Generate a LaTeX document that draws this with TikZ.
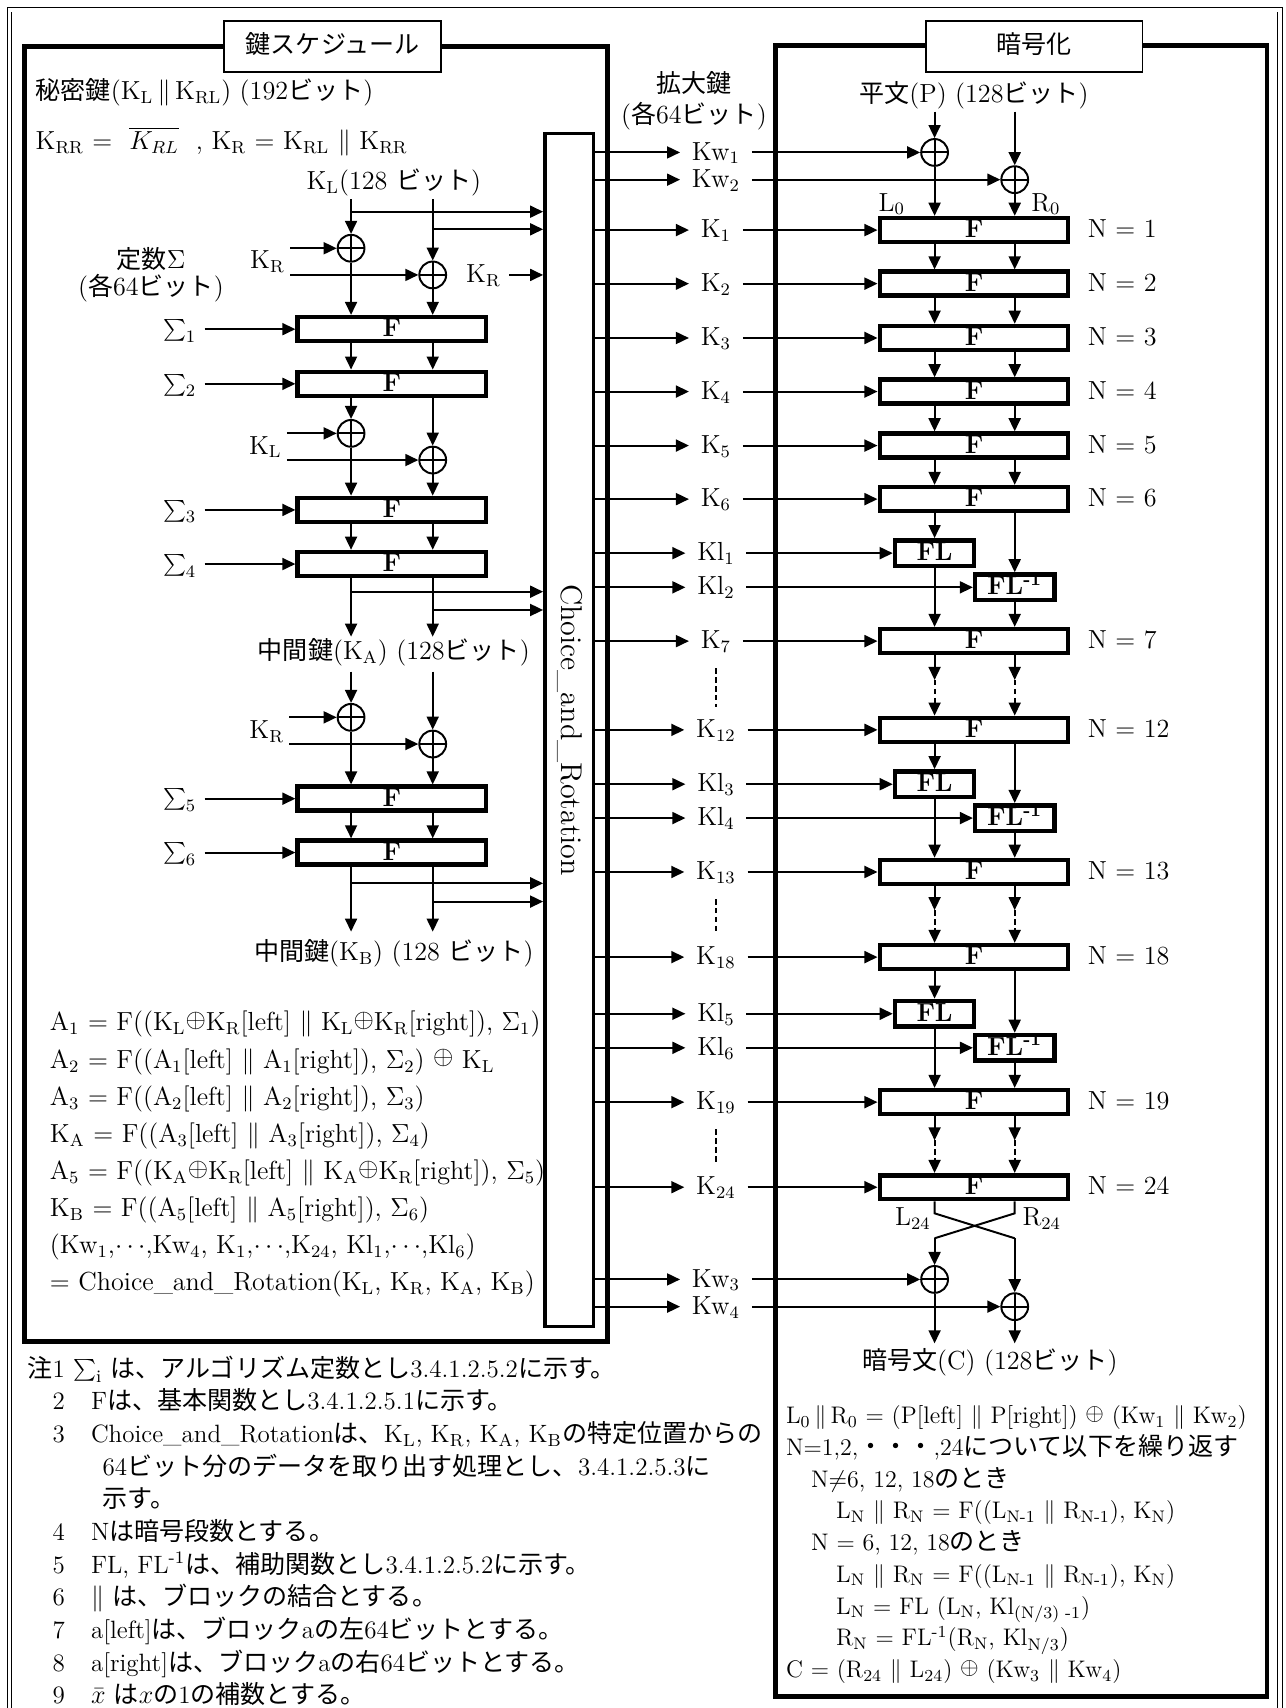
\documentclass[tikz,border=0pt]{standalone}
\usepackage{fontspec}
\usepackage{tikz}
\usetikzlibrary{arrows.meta,positioning}
\newfontfamily\jfont{Noto Sans CJK JP}
\newcommand\ja[1]{{\jfont\fontsize{11.5}{14}\selectfont #1}}
\newcommand\lo[1]{\textsubscript{#1}}
\newcommand\hi[1]{\textsuperscript{#1}}
\newcommand\xo{\raisebox{.3ex}{$\oplus$}}

\begin{document}
\begin{tikzpicture}[x=.5pt,y=-.5pt,
  every node/.append style={font=\fontsize{12}{14}\selectfont,text height=.8em,text depth=.1em},
  >={Triangle[length=6pt,width=5.5pt]},
  line width=.9pt,
  bigbox/.style={line width=2.2pt},
  headbox/.style={draw,fill=white,line width=.8pt,minimum width=99.5pt,minimum height=23.5pt,inner sep=0pt},
  fbox/.style={draw,line width=2.1pt,minimum width=86.5pt,minimum height=11pt,inner sep=0pt,font=\fontsize{12}{14}\selectfont\bfseries},
  flbox/.style={draw,line width=2.1pt,minimum width=36.3pt,minimum height=11.75pt,inner sep=0pt,font=\fontsize{12}{14}\selectfont\bfseries},
  xor/.style={draw,circle,minimum size=12.3pt,inner sep=0pt,text height=0pt,text depth=0pt,
    path picture={\draw (path picture bounding box.north) -- (path picture bounding box.south)
      (path picture bounding box.west) -- (path picture bounding box.east);}},
  keylab/.style={inner xsep=5pt,inner ysep=1pt},
  eqline/.style={anchor=west,inner sep=0pt},
  eqsmall/.style={anchor=west,inner sep=0pt,font=\fontsize{11}{13}\selectfont},
  note/.style={anchor=west,inner sep=0pt,font=\fontsize{11.5}{13}\selectfont},
  nlab/.style={anchor=west,inner sep=0pt},
  dashline/.style={dash pattern=on 2.5pt off 1.6pt}
]
\useasboundingbox (0,0) rectangle (1181,1568.6);

% frames
\draw[line width=.4pt,double distance=1.6pt] (8.7,1572) -- (8.7,9) -- (1175.5,9) -- (1175.5,1572);
\draw[bigbox] (22.8,43) rectangle (558,1232);
\node[headbox] (kshead) at (305.5,42.5) {\ja{鍵スケジュール}};
\draw[bigbox] (712.4,42) rectangle (1163.6,1558);
\node[headbox] (enchead) at (949.7,42.5) {\ja{暗号化}};

% Choice_and_Rotation
\node[draw,line width=1.6pt,minimum width=22.3pt,minimum height=548pt,inner sep=0pt] (cr) at (522.7,670.4) {};
\node[rotate=-90,font=\fontsize{13.8}{16}\selectfont] (crtext) at (cr.center) {Choice\_and\_Rotation};

% key schedule: input
\node[eqline] (secret) at (31.9,84.2) {\ja{秘密鍵}(K\lo{L}\,$\|$\,K\lo{RL}) (192\ja{ビット})};
\node[eqline] (krr) at (31.9,130) {K\lo{RR} = \ $\overline{K_{RL}}$\ \ , K\lo{R} = K\lo{RL} $\|$ K\lo{RR}};
\node (kltop) at (361.7,166.8) {K\lo{L}(128 \ja{ビット})};
\coordinate (la) at (322.4,183); \coordinate (ra) at (397.4,183);
\coordinate (lb1) at (322.4,194.4); \coordinate (rb1) at (397.4,210.6);
\node[xor] (xa) at (322.4,228) {};
\node[xor] (xb) at (397.4,252.5) {};
\node[inner sep=2pt] (lkr1) at (245.7,240) {K\lo{R}};
\node (lkr2) at (444,252.5) {K\lo{R}};
\node[inner sep=0pt] (sig) at (138.7,240) {\ja{定数}$\Sigma$};
\node[inner sep=0pt,below=2.3pt of sig] (sigb) {(\ja{各}64\ja{ビット})};

\node[fbox] (fa1) at (359.9,302.3) {F};
\node[fbox] (fa2) at (359.9,352.5) {F};
\node[xor] (xc) at (322.4,398) {};
\node[xor] (xd) at (397.4,422.5) {};
\node[inner sep=2pt] (lkl) at (243.7,410) {K\lo{L}};
\node[fbox] (fa3) at (359.9,468.3) {F};
\node[fbox] (fa4) at (359.9,518) {F};
\node (s1) at (165,302.3) {$\sum_1$};
\node (s2) at (165,352.5) {$\sum_2$};
\node (s3) at (165,468.3) {$\sum_3$};
\node (s4) at (165,518) {$\sum_4$};

\draw[->] (la) -- (xa); \draw[->] (ra) -- (xb);
\draw[->] (lb1) -- (lb1 -| cr.west); \draw[->] (rb1) -- (rb1 -| cr.west);
\draw[->] (lkr1.east |- xa) -- (xa); \draw[->] (lkr1.east |- xb) -- (xb);
\draw[->] (lkr2) -- (lkr2 -| cr.west);
\draw[->] (xa) -- (fa1.north -| xa); \draw[->] (xb) -- (fa1.north -| xb);
\draw[->] (s1) -- (fa1); \draw[->] (s2) -- (fa2); \draw[->] (s3) -- (fa3); \draw[->] (s4) -- (fa4);
\draw[->] (fa1.south -| xa) -- (fa2.north -| xa); \draw[->] (fa1.south -| xb) -- (fa2.north -| xb);
\draw[->] (fa2.south -| xc) -- (xc); \draw[->] (fa2.south -| xd) -- (xd);
\draw[->] (lkl.east |- xc) -- (xc); \draw[->] (lkl.east |- xd) -- (xd);
\draw[->] (xc) -- (fa3.north -| xc); \draw[->] (xd) -- (fa3.north -| xd);
\draw[->] (fa3.south -| xc) -- (fa4.north -| xc); \draw[->] (fa3.south -| xd) -- (fa4.north -| xd);

% intermediate key KA
\coordinate (la4) at (322.4,584.7); \coordinate (ra4) at (397.4,584.7);
\coordinate (lb2) at (322.4,543.4); \coordinate (rb2) at (397.4,560.2);
\draw[->] (fa4.south -| la4) -- (la4); \draw[->] (fa4.south -| ra4) -- (ra4);
\draw[->] (lb2) -- (lb2 -| cr.west); \draw[->] (rb2) -- (rb2 -| cr.west);
\node (ka) at (361.7,598.5) {\ja{中間鍵}(K\lo{A}) (128\ja{ビット})};

\coordinate (la5) at (322.4,616.8); \coordinate (ra5) at (397.4,616.8);
\node[xor] (xe) at (322.4,658.8) {};
\node[xor] (xf) at (397.4,683.3) {};
\node[inner sep=2pt] (lkr3) at (245,671) {K\lo{R}};
\node[fbox] (fa5) at (359.9,733.5) {F};
\node[fbox] (fa6) at (359.9,783) {F};
\node (s5) at (165,733.5) {$\sum_5$};
\node (s6) at (165,783) {$\sum_6$};
\draw[->] (la5) -- (xe); \draw[->] (ra5) -- (xf);
\draw[->] (lkr3.east |- xe) -- (xe); \draw[->] (lkr3.east |- xf) -- (xf);
\draw[->] (xe) -- (fa5.north -| xe); \draw[->] (xf) -- (fa5.north -| xf);
\draw[->] (s5) -- (fa5); \draw[->] (s6) -- (fa6);
\draw[->] (fa5.south -| xe) -- (fa6.north -| xe); \draw[->] (fa5.south -| xf) -- (fa6.north -| xf);

% intermediate key KB
\coordinate (la6) at (322.4,855.6); \coordinate (ra6) at (397.4,855.6);
\coordinate (lb3) at (322.4,811.2); \coordinate (rb3) at (397.4,828);
\draw[->] (fa6.south -| la6) -- (la6); \draw[->] (fa6.south -| ra6) -- (ra6);
\draw[->] (lb3) -- (lb3 -| cr.west); \draw[->] (rb3) -- (rb3 -| cr.west);
\node (kb) at (361.7,875.5) {\ja{中間鍵}(K\lo{B}) (128 \ja{ビット})};

% key schedule equations
\node[eqline] (ea1) at (45,939.8) {A\lo{1} = F((K\lo{L}\xo K\lo{R}[left] $\|$ K\lo{L}\xo K\lo{R}[right]), $\Sigma$\lo{1})};
\node[eqline] (ea2) at (45,973.9) {A\lo{2} = F((A\lo{1}[left] $\|$ A\lo{1}[right]), $\Sigma$\lo{2}) \xo\ K\lo{L}};
\node[eqline] (ea3) at (45,1008) {A\lo{3} = F((A\lo{2}[left] $\|$ A\lo{2}[right]), $\Sigma$\lo{3})};
\node[eqline] (ea4) at (45,1042.1) {K\lo{A} = F((A\lo{3}[left] $\|$ A\lo{3}[right]), $\Sigma$\lo{4})};
\node[eqline] (ea5) at (45,1076.2) {A\lo{5} = F((K\lo{A}\xo K\lo{R}[left] $\|$ K\lo{A}\xo K\lo{R}[right]), $\Sigma$\lo{5})};
\node[eqline] (ea6) at (45,1110.3) {K\lo{B} = F((A\lo{5}[left] $\|$ A\lo{5}[right]), $\Sigma$\lo{6})};
\node[eqline] (ea7) at (45,1144.4) {(Kw\lo{1},$\cdots$,Kw\lo{4}, K\lo{1},$\cdots$,K\lo{24}, Kl\lo{1},$\cdots$,Kl\lo{6})};
\node[eqline] (ea8) at (45,1178.5) {= Choice\_and\_Rotation(K\lo{L}, K\lo{R}, K\lo{A}, K\lo{B})};

% extended keys
\node[inner sep=0pt] (ext1) at (637.3,78) {\ja{拡大鍵}};
\node[inner sep=0pt,below=4.5pt of ext1] (ext2) {(\ja{各}64\ja{ビット})};
\node[keylab] (kw1) at (657.5,140) {Kw\lo{1}};
\node[keylab] (kw2) at (657.5,165) {Kw\lo{2}};
\node[keylab] (k1) at (657.5,211.3) {K\lo{1}};
\node[keylab] (k2) at (657.5,260.5) {K\lo{2}};
\node[keylab] (k3) at (657.5,310.4) {K\lo{3}};
\node[keylab] (k4) at (657.5,359.6) {K\lo{4}};
\node[keylab] (k5) at (657.5,409.2) {K\lo{5}};
\node[keylab] (k6) at (657.5,458.4) {K\lo{6}};
\node[keylab] (kl1) at (657.5,508) {Kl\lo{1}};
\node[keylab] (kl2) at (657.5,539.4) {Kl\lo{2}};
\node[keylab] (k7) at (657.5,588.8) {K\lo{7}};
\node[keylab] (k12) at (657.5,670.3) {K\lo{12}};
\node[keylab] (kl3) at (657.5,720.2) {Kl\lo{3}};
\node[keylab] (kl4) at (657.5,751.3) {Kl\lo{4}};
\node[keylab] (k13) at (657.5,800.8) {K\lo{13}};
\node[keylab] (k18) at (657.5,879) {K\lo{18}};
\node[keylab] (kl5) at (657.5,931) {Kl\lo{5}};
\node[keylab] (kl6) at (657.5,962.3) {Kl\lo{6}};
\node[keylab] (k19) at (657.5,1012.2) {K\lo{19}};
\node[keylab] (k24) at (657.5,1090.3) {K\lo{24}};
\node[keylab] (kw3) at (657.5,1175) {Kw\lo{3}};
\node[keylab] (kw4) at (657.5,1200) {Kw\lo{4}};
\draw[dashline,shorten <=6.5pt,shorten >=4.5pt] (k7) -- (k12);
\draw[dashline,shorten <=6.5pt,shorten >=4.5pt] (k13) -- (k18);
\draw[dashline,shorten <=6.5pt,shorten >=4.5pt] (k19) -- (k24);

% encryption
\node (ptext) at (894.5,87.2) {\ja{平文}(P) (128\ja{ビット})};
\coordinate (pl) at (858.3,102.6); \coordinate (pr) at (931.9,102.6);
\node[xor] (xp1) at (858.3,140) {};
\node[xor] (xp2) at (931.9,165) {};
\node (l0) at (819,186.8) {L\lo{0}};
\node (r0) at (960.6,186.8) {R\lo{0}};
\node[fbox] (f1) at (894.5,211.3) {F};
\node[fbox] (f2) at (894.5,260.5) {F};
\node[fbox] (f3) at (894.5,310.4) {F};
\node[fbox] (f4) at (894.5,359.6) {F};
\node[fbox] (f5) at (894.5,409.2) {F};
\node[fbox] (f6) at (894.5,458.4) {F};
\node[flbox] (fl1) at (858.3,508) {FL};
\node[flbox] (fli1) at (931.9,539.4) {FL\hi{-1}};
\node[fbox] (f7) at (894.5,588.8) {F};
\node[fbox] (f12) at (894.5,670.3) {F};
\node[flbox] (fl2) at (858.3,720.2) {FL};
\node[flbox] (fli2) at (931.9,751.3) {FL\hi{-1}};
\node[fbox] (f13) at (894.5,800.8) {F};
\node[fbox] (f18) at (894.5,879) {F};
\node[flbox] (fl3) at (858.3,931) {FL};
\node[flbox] (fli3) at (931.9,962.3) {FL\hi{-1}};
\node[fbox] (f19) at (894.5,1012.2) {F};
\node[fbox] (f24) at (894.5,1090.3) {F};
\node[nlab,right=7.5pt of f1] (n1) {N = 1};
\node[nlab,right=7.5pt of f2] (n2) {N = 2};
\node[nlab,right=7.5pt of f3] (n3) {N = 3};
\node[nlab,right=7.5pt of f4] (n4) {N = 4};
\node[nlab,right=7.5pt of f5] (n5) {N = 5};
\node[nlab,right=7.5pt of f6] (n6) {N = 6};
\node[nlab,right=7.5pt of f7] (n7) {N = 7};
\node[nlab,right=7.5pt of f12] (n12) {N = 12};
\node[nlab,right=7.5pt of f13] (n13) {N = 13};
\node[nlab,right=7.5pt of f18] (n18) {N = 18};
\node[nlab,right=7.5pt of f19] (n19) {N = 19};
\node[nlab,right=7.5pt of f24] (n24) {N = 24};

\draw[->] (pl) -- (xp1); \draw[->] (pr) -- (xp2);
\draw[->] (xp1) -- (f1.north -| xp1); \draw[->] (xp2) -- (f1.north -| xp2);
\draw[->] (f1.south -| pl) -- (f2.north -| pl); \draw[->] (f1.south -| pr) -- (f2.north -| pr);
\draw[->] (f2.south -| pl) -- (f3.north -| pl); \draw[->] (f2.south -| pr) -- (f3.north -| pr);
\draw[->] (f3.south -| pl) -- (f4.north -| pl); \draw[->] (f3.south -| pr) -- (f4.north -| pr);
\draw[->] (f4.south -| pl) -- (f5.north -| pl); \draw[->] (f4.south -| pr) -- (f5.north -| pr);
\draw[->] (f5.south -| pl) -- (f6.north -| pl); \draw[->] (f5.south -| pr) -- (f6.north -| pr);
\draw[->] (f6.south -| fl1) -- (fl1); \draw[->] (f6.south -| fli1) -- (fli1);
\draw[->] (fl1) -- (f7.north -| fl1); \draw[->] (fli1) -- (f7.north -| fli1);
\coordinate (dl1) at (858.3,624.5); \coordinate (dr1) at (931.9,624.5);
\draw[->] (f7.south -| dl1) -- (dl1); \draw[->] (f7.south -| dr1) -- (dr1);
\draw[->,dashline] (dl1) -- (f12.north -| dl1); \draw[->,dashline] (dr1) -- (f12.north -| dr1);
\draw[->] (f12.south -| fl2) -- (fl2); \draw[->] (f12.south -| fli2) -- (fli2);
\draw[->] (fl2) -- (f13.north -| fl2); \draw[->] (fli2) -- (f13.north -| fli2);
\coordinate (dl2) at (858.3,835.9); \coordinate (dr2) at (931.9,835.9);
\draw[->] (f13.south -| dl2) -- (dl2); \draw[->] (f13.south -| dr2) -- (dr2);
\draw[->,dashline] (dl2) -- (f18.north -| dl2); \draw[->,dashline] (dr2) -- (f18.north -| dr2);
\draw[->] (f18.south -| fl3) -- (fl3); \draw[->] (f18.south -| fli3) -- (fli3);
\draw[->] (fl3) -- (f19.north -| fl3); \draw[->] (fli3) -- (f19.north -| fli3);
\coordinate (dl3) at (858.3,1047.3); \coordinate (dr3) at (931.9,1047.3);
\draw[->] (f19.south -| dl3) -- (dl3); \draw[->] (f19.south -| dr3) -- (dr3);
\draw[->,dashline] (dl3) -- (f24.north -| dl3); \draw[->,dashline] (dr3) -- (f24.north -| dr3);

% swap and output whitening
\coordinate (c1) at (858.3,1114.3); \coordinate (c2) at (931.9,1114.3);
\coordinate (c3) at (858.3,1137.2); \coordinate (c4) at (931.9,1137.2);
\node (l24) at (838.3,1118.9) {L\lo{24}};
\node (r24) at (956.7,1118.9) {R\lo{24}};
\node[xor] (xc1) at (858.3,1175) {};
\node[xor] (xc2) at (931.9,1200) {};
\draw (f24.south -| c1) -- (c1) -- (c4); \draw[->] (c4) -- (xc2);
\draw (f24.south -| c2) -- (c2) -- (c3); \draw[->] (c3) -- (xc1);
\coordinate (co1) at (858.3,1233.7); \coordinate (co2) at (931.9,1233.7);
\draw[->] (xc1) -- (co1); \draw[->] (xc2) -- (co2);
\node (ctext) at (909,1250.5) {\ja{暗号文}(C) (128\ja{ビット})};

% keys out of Choice_and_Rotation
\draw[->] (cr.east |- kw1) -- (kw1); \draw[->] (kw1) -- (xp1);
\draw[->] (cr.east |- kw2) -- (kw2); \draw[->] (kw2) -- (xp2);
\draw[->] (cr.east |- k1) -- (k1); \draw[->] (k1) -- (f1);
\draw[->] (cr.east |- k2) -- (k2); \draw[->] (k2) -- (f2);
\draw[->] (cr.east |- k3) -- (k3); \draw[->] (k3) -- (f3);
\draw[->] (cr.east |- k4) -- (k4); \draw[->] (k4) -- (f4);
\draw[->] (cr.east |- k5) -- (k5); \draw[->] (k5) -- (f5);
\draw[->] (cr.east |- k6) -- (k6); \draw[->] (k6) -- (f6);
\draw[->] (cr.east |- kl1) -- (kl1); \draw[->] (kl1) -- (fl1);
\draw[->] (cr.east |- kl2) -- (kl2); \draw[->] (kl2) -- (fli1);
\draw[->] (cr.east |- k7) -- (k7); \draw[->] (k7) -- (f7);
\draw[->] (cr.east |- k12) -- (k12); \draw[->] (k12) -- (f12);
\draw[->] (cr.east |- kl3) -- (kl3); \draw[->] (kl3) -- (fl2);
\draw[->] (cr.east |- kl4) -- (kl4); \draw[->] (kl4) -- (fli2);
\draw[->] (cr.east |- k13) -- (k13); \draw[->] (k13) -- (f13);
\draw[->] (cr.east |- k18) -- (k18); \draw[->] (k18) -- (f18);
\draw[->] (cr.east |- kl5) -- (kl5); \draw[->] (kl5) -- (fl3);
\draw[->] (cr.east |- kl6) -- (kl6); \draw[->] (kl6) -- (fli3);
\draw[->] (cr.east |- k19) -- (k19); \draw[->] (k19) -- (f19);
\draw[->] (cr.east |- k24) -- (k24); \draw[->] (k24) -- (f24);
\draw[->] (cr.east |- kw3) -- (kw3); \draw[->] (kw3) -- (xc1);
\draw[->] (cr.east |- kw4) -- (kw4); \draw[->] (kw4) -- (xc2);

% encryption equations
\node[eqsmall] (e1) at (721,1300.4) {L\lo{0}\,$\|$\,R\lo{0} = (P[left] $\|$ P[right]) \xo\ (Kw\lo{1} $\|$ Kw\lo{2})};
\node[eqsmall] (e2) at (721,1329.6) {N=1,2,\ja{・・・},24\ja{について以下を繰り返す}};
\node[eqsmall] (e3) at (744,1358.7) {N$\neq$6, 12, 18\ja{のとき}};
\node[eqsmall] (e4) at (767,1387.9) {L\lo{N} $\|$ R\lo{N} = F((L\lo{N-1} $\|$ R\lo{N-1}), K\lo{N})};
\node[eqsmall] (e5) at (744,1417) {N = 6, 12, 18\ja{のとき}};
\node[eqsmall] (e6) at (767,1446.2) {L\lo{N} $\|$ R\lo{N} = F((L\lo{N-1} $\|$ R\lo{N-1}), K\lo{N})};
\node[eqsmall] (e7) at (767,1475.4) {L\lo{N} = FL (L\lo{N}, Kl\lo{(N/3) -1})};
\node[eqsmall] (e8) at (767,1504.5) {R\lo{N} = FL\hi{-1}(R\lo{N}, Kl\lo{N/3})};
\node[eqsmall] (e9) at (721,1533.7) {C = (R\lo{24} $\|$ L\lo{24}) \xo\ (Kw\lo{3} $\|$ Kw\lo{4})};

% notes
\node[note] (nt1) at (24.5,1257.8) {\ja{注}1 $\sum_{\mathrm{i}}$ \ja{は、アルゴリズム定数とし}3.4.1.2.5.2\ja{に示す。}};
\node[note] (nn2) at (47.5,1287.8) {2};
\node[note] (nt2) at (82.7,1287.8) {F\ja{は、基本関数とし}3.4.1.2.5.1\ja{に示す。}};
\node[note] (nn3) at (47.5,1317.8) {3};
\node[note] (nt3) at (82.7,1317.8) {Choice\_and\_Rotation\ja{は、}K\lo{L}, K\lo{R}, K\lo{A}, K\lo{B}\ja{の特定位置からの}};
\node[note] (nt3b) at (93.4,1347.8) {64\ja{ビット分のデータを取り出す処理とし、}3.4.1.2.5.3\ja{に}};
\node[note] (nt3c) at (93.4,1377.8) {\ja{示す。}};
\node[note] (nn4) at (47.5,1407.8) {4};
\node[note] (nt4) at (82.7,1407.8) {N\ja{は暗号段数とする。}};
\node[note] (nn5) at (47.5,1437.8) {5};
\node[note] (nt5) at (82.7,1437.8) {FL, FL\hi{-1}\ja{は、補助関数とし}3.4.1.2.5.2\ja{に示す。}};
\node[note] (nn6) at (47.5,1467.8) {6};
\node[note] (nt6) at (82.7,1467.8) {$\|$ \ja{は、ブロックの結合とする。}};
\node[note] (nn7) at (47.5,1497.8) {7};
\node[note] (nt7) at (82.7,1497.8) {a[left]\ja{は、ブロック}a\ja{の左}64\ja{ビットとする。}};
\node[note] (nn8) at (47.5,1527.8) {8};
\node[note] (nt8) at (82.7,1527.8) {a[right]\ja{は、ブロック}a\ja{の右}64\ja{ビットとする。}};
\node[note] (nn9) at (47.5,1557.8) {9};
\node[note] (nt9) at (82.7,1557.8) {$\bar{x}$ \ja{は}$x$\ja{の}1\ja{の補数とする。}};
\end{tikzpicture}
\end{document}
